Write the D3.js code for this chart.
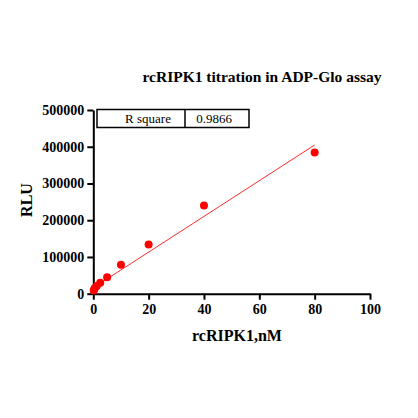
<!DOCTYPE html>
<html>
<head>
<meta charset="utf-8">
<script src="https://cdn.jsdelivr.net/npm/d3@7"></script>
<style>
  body { margin: 0; background: #fff; }
  svg { display: block; }
  .tick text { font-family: "Liberation Serif", "Times New Roman", serif; font-weight: bold; font-size: 14px; }
</style>
</head>
<body>
<svg width="418" height="418"></svg>
<script>
// rcRIPK1 titration (nM) vs RLU
var conc = [0.156, 0.3125, 0.625, 1.25, 2.5, 5, 10, 20, 40, 80];
var rlu = [9000, 12000, 16000, 21000, 30000, 45000, 79000, 134000, 240000, 384000];

// linear fit
var fitIntercept = 16000;
var fitSlope = 4860;
var rSquare = "0.9866";

var xTicks = [0, 20, 40, 60, 80, 100];
var yTicks = [0, 100000, 200000, 300000, 400000, 500000];

var svg = d3.select("svg");

var plotLeft = 93.3, plotRight = 370, plotTop = 110, plotBottom = 293.7;

var x = d3.scaleLinear().domain([0, 100]).range([plotLeft, plotRight]);
var y = d3.scaleLinear().domain([0, 500000]).range([plotBottom, plotTop]);

// title
svg.append("text")
    .attr("x", 262)
    .attr("y", 82)
    .attr("text-anchor", "middle")
    .style("font", "bold 15.5px 'Liberation Serif', serif")
    .text("rcRIPK1 titration in ADP-Glo assay");

// axes
var xAxis = svg.append("g")
    .attr("transform", "translate(0," + plotBottom + ")")
    .call(d3.axisBottom(x).tickValues(xTicks).tickSize(6).tickPadding(4).tickSizeOuter(0));

var yAxis = svg.append("g")
    .attr("transform", "translate(" + plotLeft + ",0)")
    .call(d3.axisLeft(y).tickValues(yTicks).tickSize(6).tickPadding(3).tickSizeOuter(0)
        .tickFormat(d3.format("d")));

[xAxis, yAxis].forEach(function(a) {
    a.select(".domain").attr("stroke", "#000").attr("stroke-width", 2);
    a.selectAll(".tick line").attr("stroke", "#000").attr("stroke-width", 2);
    a.selectAll(".tick text").attr("fill", "#000");
});

// axis titles
svg.append("text")
    .attr("transform", "translate(32,200) rotate(-90)")
    .attr("text-anchor", "middle")
    .style("font", "bold 16px 'Liberation Serif', serif")
    .text("RLU");

svg.append("text")
    .attr("x", 237)
    .attr("y", 341)
    .attr("text-anchor", "middle")
    .style("font", "bold 16px 'Liberation Serif', serif")
    .text("rcRIPK1,nM");

// fit line
var xMin = d3.min(conc), xMax = d3.max(conc);
svg.append("line")
    .attr("x1", x(xMin))
    .attr("y1", y(fitIntercept + fitSlope * xMin))
    .attr("x2", x(xMax))
    .attr("y2", y(fitIntercept + fitSlope * xMax))
    .attr("stroke", "#ff2a2a")
    .attr("stroke-width", 1);

// points
svg.selectAll(".pt")
    .data(conc)
    .enter()
    .append("circle")
    .attr("class", "pt")
    .attr("cx", function(d) { return x(d); })
    .attr("cy", function(d, i) { return y(rlu[i]); })
    .attr("r", 4)
    .attr("fill", "#f00");

// R square box
var box = svg.append("g");
box.append("rect")
    .attr("x", 97).attr("y", 109.5)
    .attr("width", 152).attr("height", 18)
    .attr("fill", "#fff").attr("stroke", "#000").attr("stroke-width", 1.5);
box.append("line")
    .attr("x1", 185).attr("x2", 185).attr("y1", 109.5).attr("y2", 127.5)
    .attr("stroke", "#000").attr("stroke-width", 1.5);
box.append("text")
    .attr("x", 148).attr("y", 123)
    .attr("text-anchor", "middle")
    .style("font", "13px 'Liberation Serif', serif")
    .text("R square");
box.append("text")
    .attr("x", 214).attr("y", 123)
    .attr("text-anchor", "middle")
    .style("font", "13px 'Liberation Serif', serif")
    .text(rSquare);
</script>
</body>
</html>
